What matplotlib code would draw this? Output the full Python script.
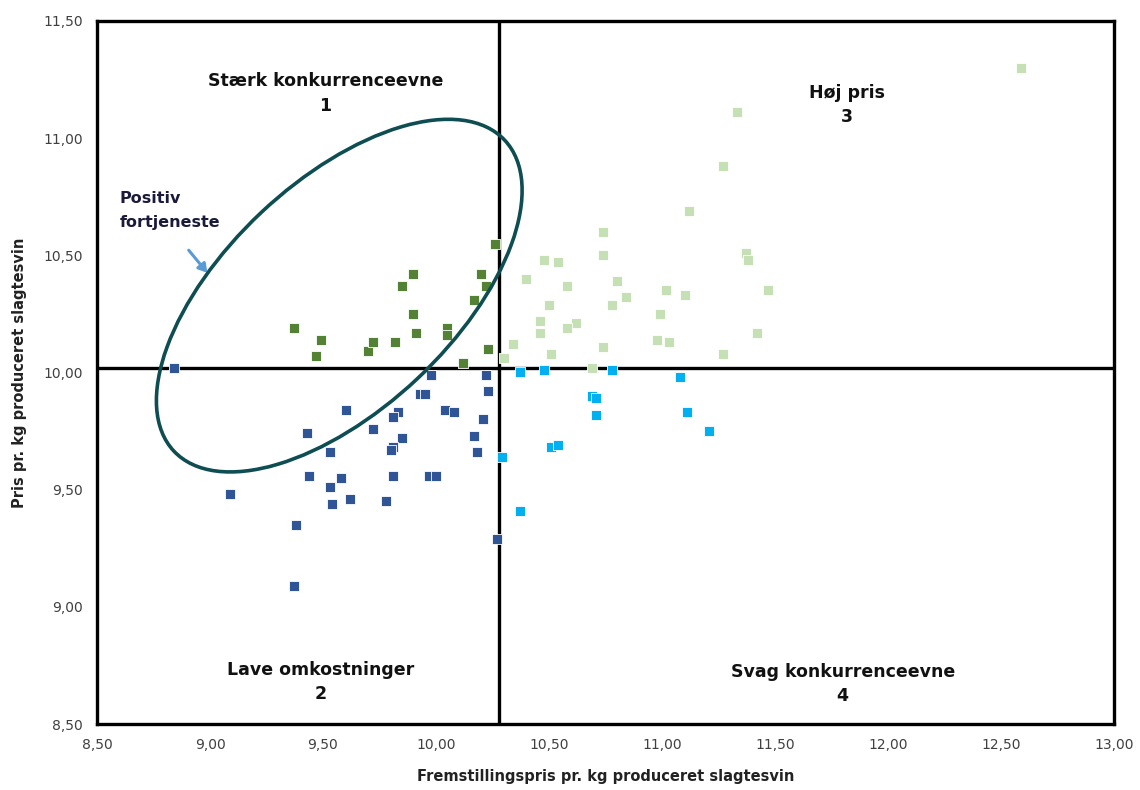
import numpy as np
import matplotlib
matplotlib.use("Agg")
import matplotlib.pyplot as plt
from matplotlib.patches import Ellipse
from matplotlib.transforms import ScaledTranslation
from matplotlib.ticker import FuncFormatter

# Kvadrant 1 - staerk konkurrenceevne (moerkegroen)
q1_x = [9.37, 9.49, 9.47, 9.70, 9.72, 9.82, 9.85, 9.90, 9.90, 9.91, 10.05, 10.05,
        10.12, 10.17, 10.20, 10.22, 10.23, 10.26]
q1_y = [10.19, 10.14, 10.07, 10.09, 10.13, 10.13, 10.37, 10.42, 10.25, 10.17, 10.19, 10.16,
        10.04, 10.31, 10.42, 10.37, 10.10, 10.55]

# Kvadrant 2 - lave omkostninger (moerkeblaa)
q2_x = [8.84, 9.98, 10.22, 10.23, 9.93, 9.95, 9.60, 9.83, 9.81, 10.04, 10.08, 10.21,
        9.72, 9.43, 9.85, 10.17, 9.81, 9.80, 10.18, 9.53, 9.44, 9.58, 9.81, 9.97,
        10.00, 9.53, 9.09, 9.62, 9.54, 9.78, 9.38, 10.27, 9.37]
q2_y = [10.02, 9.99, 9.99, 9.92, 9.91, 9.91, 9.84, 9.83, 9.81, 9.84, 9.83, 9.80,
        9.76, 9.74, 9.72, 9.73, 9.68, 9.67, 9.66, 9.66, 9.56, 9.55, 9.56, 9.56,
        9.56, 9.51, 9.48, 9.46, 9.44, 9.45, 9.35, 9.29, 9.09]

# Kvadrant 3 - hoej pris (lysegroen)
q3_x = [12.59, 11.33, 11.27, 11.12, 10.74, 10.74, 10.48, 10.54, 11.37, 11.38, 10.40,
        10.58, 10.80, 11.02, 11.10, 11.47, 10.84, 10.50, 10.78, 10.99, 10.46, 10.62,
        10.58, 10.46, 11.42, 10.34, 10.74, 10.98, 11.03, 10.51, 11.27, 10.30, 10.69]
q3_y = [11.30, 11.11, 10.88, 10.69, 10.60, 10.50, 10.48, 10.47, 10.51, 10.48, 10.40,
        10.37, 10.39, 10.35, 10.33, 10.35, 10.32, 10.29, 10.29, 10.25, 10.22, 10.21,
        10.19, 10.17, 10.17, 10.12, 10.11, 10.14, 10.13, 10.08, 10.08, 10.06, 10.02]

# Kvadrant 4 - svag konkurrenceevne (lyseblaa)
q4_x = [10.37, 10.48, 10.78, 11.08, 10.69, 10.71, 11.11, 10.71, 11.21, 10.51, 10.54,
        10.29, 10.37]
q4_y = [10.00, 10.01, 10.01, 9.98, 9.90, 9.89, 9.83, 9.82, 9.75, 9.68, 9.69,
        9.64, 9.41]

# krydset mellem kvadranterne
x_mid = 10.28
y_mid = 10.02

fig = plt.figure(figsize=(11.4, 7.9), dpi=100)
ax = fig.add_axes([0.0851, 0.0835, 0.892, 0.890])

marker_kw = dict(marker="s", s=62, edgecolors="white", linewidths=0.6, zorder=3)
ax.scatter(q1_x, q1_y, color="#548235", **marker_kw)
ax.scatter(q2_x, q2_y, color="#2F5597", **marker_kw)
ax.scatter(q3_x, q3_y, color="#C5E0B4", **marker_kw)
ax.scatter(q4_x, q4_y, color="#00B0F0", **marker_kw)

ax.axvline(x_mid, color="black", lw=2.4, zorder=2)
ax.axhline(y_mid, color="black", lw=2.4, zorder=2)

# ellipse rundt om positiv fortjeneste - stoerrelse i tommer, centrum i data
ell_tr = fig.dpi_scale_trans + ScaledTranslation(9.572, 10.328, ax.transData)
ell = Ellipse((0, 0), width=4.54, height=2.28, angle=43.25, transform=ell_tr,
              fill=False, edgecolor="#0E4D52", lw=2.6, zorder=4)
ax.add_patch(ell)

ax.annotate("", xy=(8.996, 10.416), xytext=(8.898, 10.531),
            arrowprops=dict(arrowstyle="-|>,head_length=0.5,head_width=0.3",
                            color="#5B9BD5", lw=2.2))
ax.text(8.60, 10.69, "Positiv\nfortjeneste", fontsize=11.5, fontweight="bold",
        color="#1A1A3A", ha="left", va="center", linespacing=1.75)

lab_kw = dict(fontsize=12.5, fontweight="bold", color="#111111", ha="center",
              va="center", linespacing=1.45)
ax.text(9.51, 11.19, "Stærk konkurrenceevne\n1", **lab_kw)
ax.text(11.82, 11.14, "Høj pris\n3", **lab_kw)
ax.text(9.49, 8.68, "Lave omkostninger\n2", **lab_kw)
ax.text(11.80, 8.67, "Svag konkurrenceevne\n4", **lab_kw)

ax.set_xlim(8.5, 13.0)
ax.set_ylim(8.5, 11.5)
ax.set_xticks(np.arange(8.5, 13.01, 0.5))
ax.set_yticks(np.arange(8.5, 11.51, 0.5))
comma = FuncFormatter(lambda v, p: f"{v:.2f}".replace(".", ","))
ax.xaxis.set_major_formatter(comma)
ax.yaxis.set_major_formatter(comma)
ax.tick_params(length=0, labelsize=10, colors="#404040", pad=10)

for sp in ax.spines.values():
    sp.set_linewidth(2.4)
    sp.set_color("black")

ax.set_xlabel("Fremstillingspris pr. kg produceret slagtesvin", fontsize=10.5,
              fontweight="bold", color="#222222", labelpad=12)
ax.set_ylabel("Pris pr. kg produceret slagtesvin", fontsize=10.5,
              fontweight="bold", color="#222222", labelpad=12)

fig.savefig("out.png", dpi=100)
